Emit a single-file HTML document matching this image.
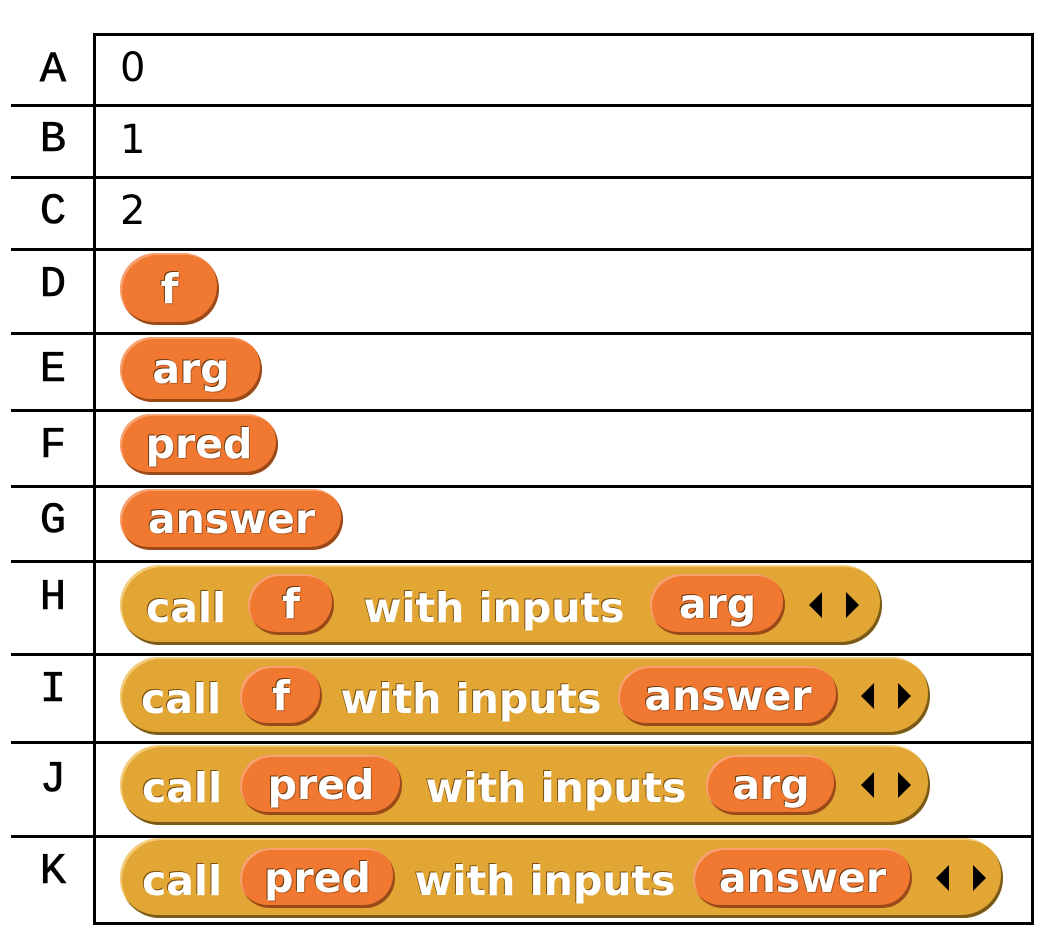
<!DOCTYPE html>
<html><head><style>
body{margin:0;width:1062px;height:946px;background:#fff;position:relative;overflow:hidden}
.h{position:absolute;left:11px;width:1023px;height:3px;background:#000}
.v{position:absolute;width:3px;background:#000}
.lab{position:absolute;left:20px;width:66px;text-align:center;font-family:"Liberation Mono","Courier New",monospace;font-size:44px;line-height:44px;color:#000;-webkit-text-stroke:0.6px #000}
.num{position:absolute;left:120px;font-family:"DejaVu Sans",sans-serif;font-size:40px;line-height:42px;color:#000}
.o,.g,.t{position:absolute;box-sizing:border-box;font-family:"DejaVu Sans",sans-serif;font-weight:bold;color:#fff;text-align:center;white-space:nowrap;text-shadow:-1px -1px 0 #6a3a10,1px 1px 0 rgba(0,0,0,.25)}
.o{background:#F07830;border-radius:40px;box-shadow:inset -2px -3px 0 #9a4a18,inset 2px 2px 0 #f7a070;font-size:41px}
.g{background:#E2A634;border-radius:45px;box-shadow:inset -2px -3px 0 #7a5a18,inset 2px 2px 0 #f2cc7a}
.t{font-size:41px;text-shadow:-1px -1px 0 #7a5010}
svg.ar{position:absolute}
</style></head><body>
<div class="h" style="top:33px;left:94px;width:940px"></div>
<div class="h" style="top:104px"></div><div class="h" style="top:176px"></div><div class="h" style="top:248px"></div>
<div class="h" style="top:332px"></div><div class="h" style="top:409px"></div><div class="h" style="top:485px"></div>
<div class="h" style="top:560px"></div><div class="h" style="top:653px"></div><div class="h" style="top:741px"></div>
<div class="h" style="top:835px"></div><div class="h" style="top:922px;left:94px;width:940px"></div>
<div class="v" style="left:93px;top:33px;height:892px"></div>
<div class="v" style="left:1031px;top:33px;height:892px"></div>

<div class="lab" style="top:48px">A</div><div class="lab" style="top:118px">B</div><div class="lab" style="top:190px">C</div>
<div class="lab" style="top:263px">D</div><div class="lab" style="top:348px">E</div><div class="lab" style="top:424px">F</div>
<div class="lab" style="top:499px">G</div><div class="lab" style="top:576px">H</div><div class="lab" style="top:668px">I</div>
<div class="lab" style="top:758px">J</div><div class="lab" style="top:850px">K</div>
<div class="num" style="top:47px">0</div><div class="num" style="top:119px">1</div><div class="num" style="top:190px">2</div>

<div class="o" style="left:120px;top:253px;width:99px;height:72px;line-height:72px">f</div>
<div class="o" style="left:120px;top:337px;width:142px;height:65px;line-height:65px">arg</div>
<div class="o" style="left:120px;top:414px;width:158px;height:61px;line-height:61px">pred</div>
<div class="o" style="left:120px;top:489px;width:223px;height:61px;line-height:61px">answer</div>

<div class="g" style="left:120px;top:565px;width:762px;height:80px"></div>
<div class="t" style="left:140px;top:584px;width:92px">call</div>
<div class="o" style="left:248px;top:574px;width:86px;height:61px;line-height:61px">f</div>
<div class="t" style="left:352px;top:584px;width:284px">with inputs</div>
<div class="o" style="left:650px;top:574px;width:135px;height:61px;line-height:61px">arg</div>
<svg class="ar" style="left:806px;top:590px" width="56" height="30"><polygon points="16,2 16,28 3,15"/><polygon points="40,2 40,28 53,15"/></svg>

<div class="g" style="left:120px;top:657px;width:810px;height:78px"></div>
<div class="t" style="left:138px;top:675px;width:86px">call</div>
<div class="o" style="left:240px;top:666px;width:82px;height:60px;line-height:60px">f</div>
<div class="t" style="left:338px;top:675px;width:266px">with inputs</div>
<div class="o" style="left:618px;top:666px;width:220px;height:60px;line-height:60px">answer</div>
<svg class="ar" style="left:858px;top:681px" width="56" height="30"><polygon points="16,2 16,28 3,15"/><polygon points="40,2 40,28 53,15"/></svg>

<div class="g" style="left:120px;top:745px;width:810px;height:80px"></div>
<div class="t" style="left:138px;top:764px;width:88px">call</div>
<div class="o" style="left:240px;top:755px;width:162px;height:60px;line-height:60px">pred</div>
<div class="t" style="left:418px;top:764px;width:276px">with inputs</div>
<div class="o" style="left:706px;top:755px;width:130px;height:60px;line-height:60px">arg</div>
<svg class="ar" style="left:858px;top:770px" width="56" height="30"><polygon points="16,2 16,28 3,15"/><polygon points="40,2 40,28 53,15"/></svg>

<div class="g" style="left:120px;top:838px;width:883px;height:80px"></div>
<div class="t" style="left:138px;top:857px;width:88px">call</div>
<div class="o" style="left:240px;top:848px;width:155px;height:60px;line-height:60px">pred</div>
<div class="t" style="left:410px;top:857px;width:270px">with inputs</div>
<div class="o" style="left:693px;top:848px;width:219px;height:60px;line-height:60px">answer</div>
<svg class="ar" style="left:933px;top:863px" width="56" height="30"><polygon points="16,2 16,28 3,15"/><polygon points="40,2 40,28 53,15"/></svg>
</body></html>
